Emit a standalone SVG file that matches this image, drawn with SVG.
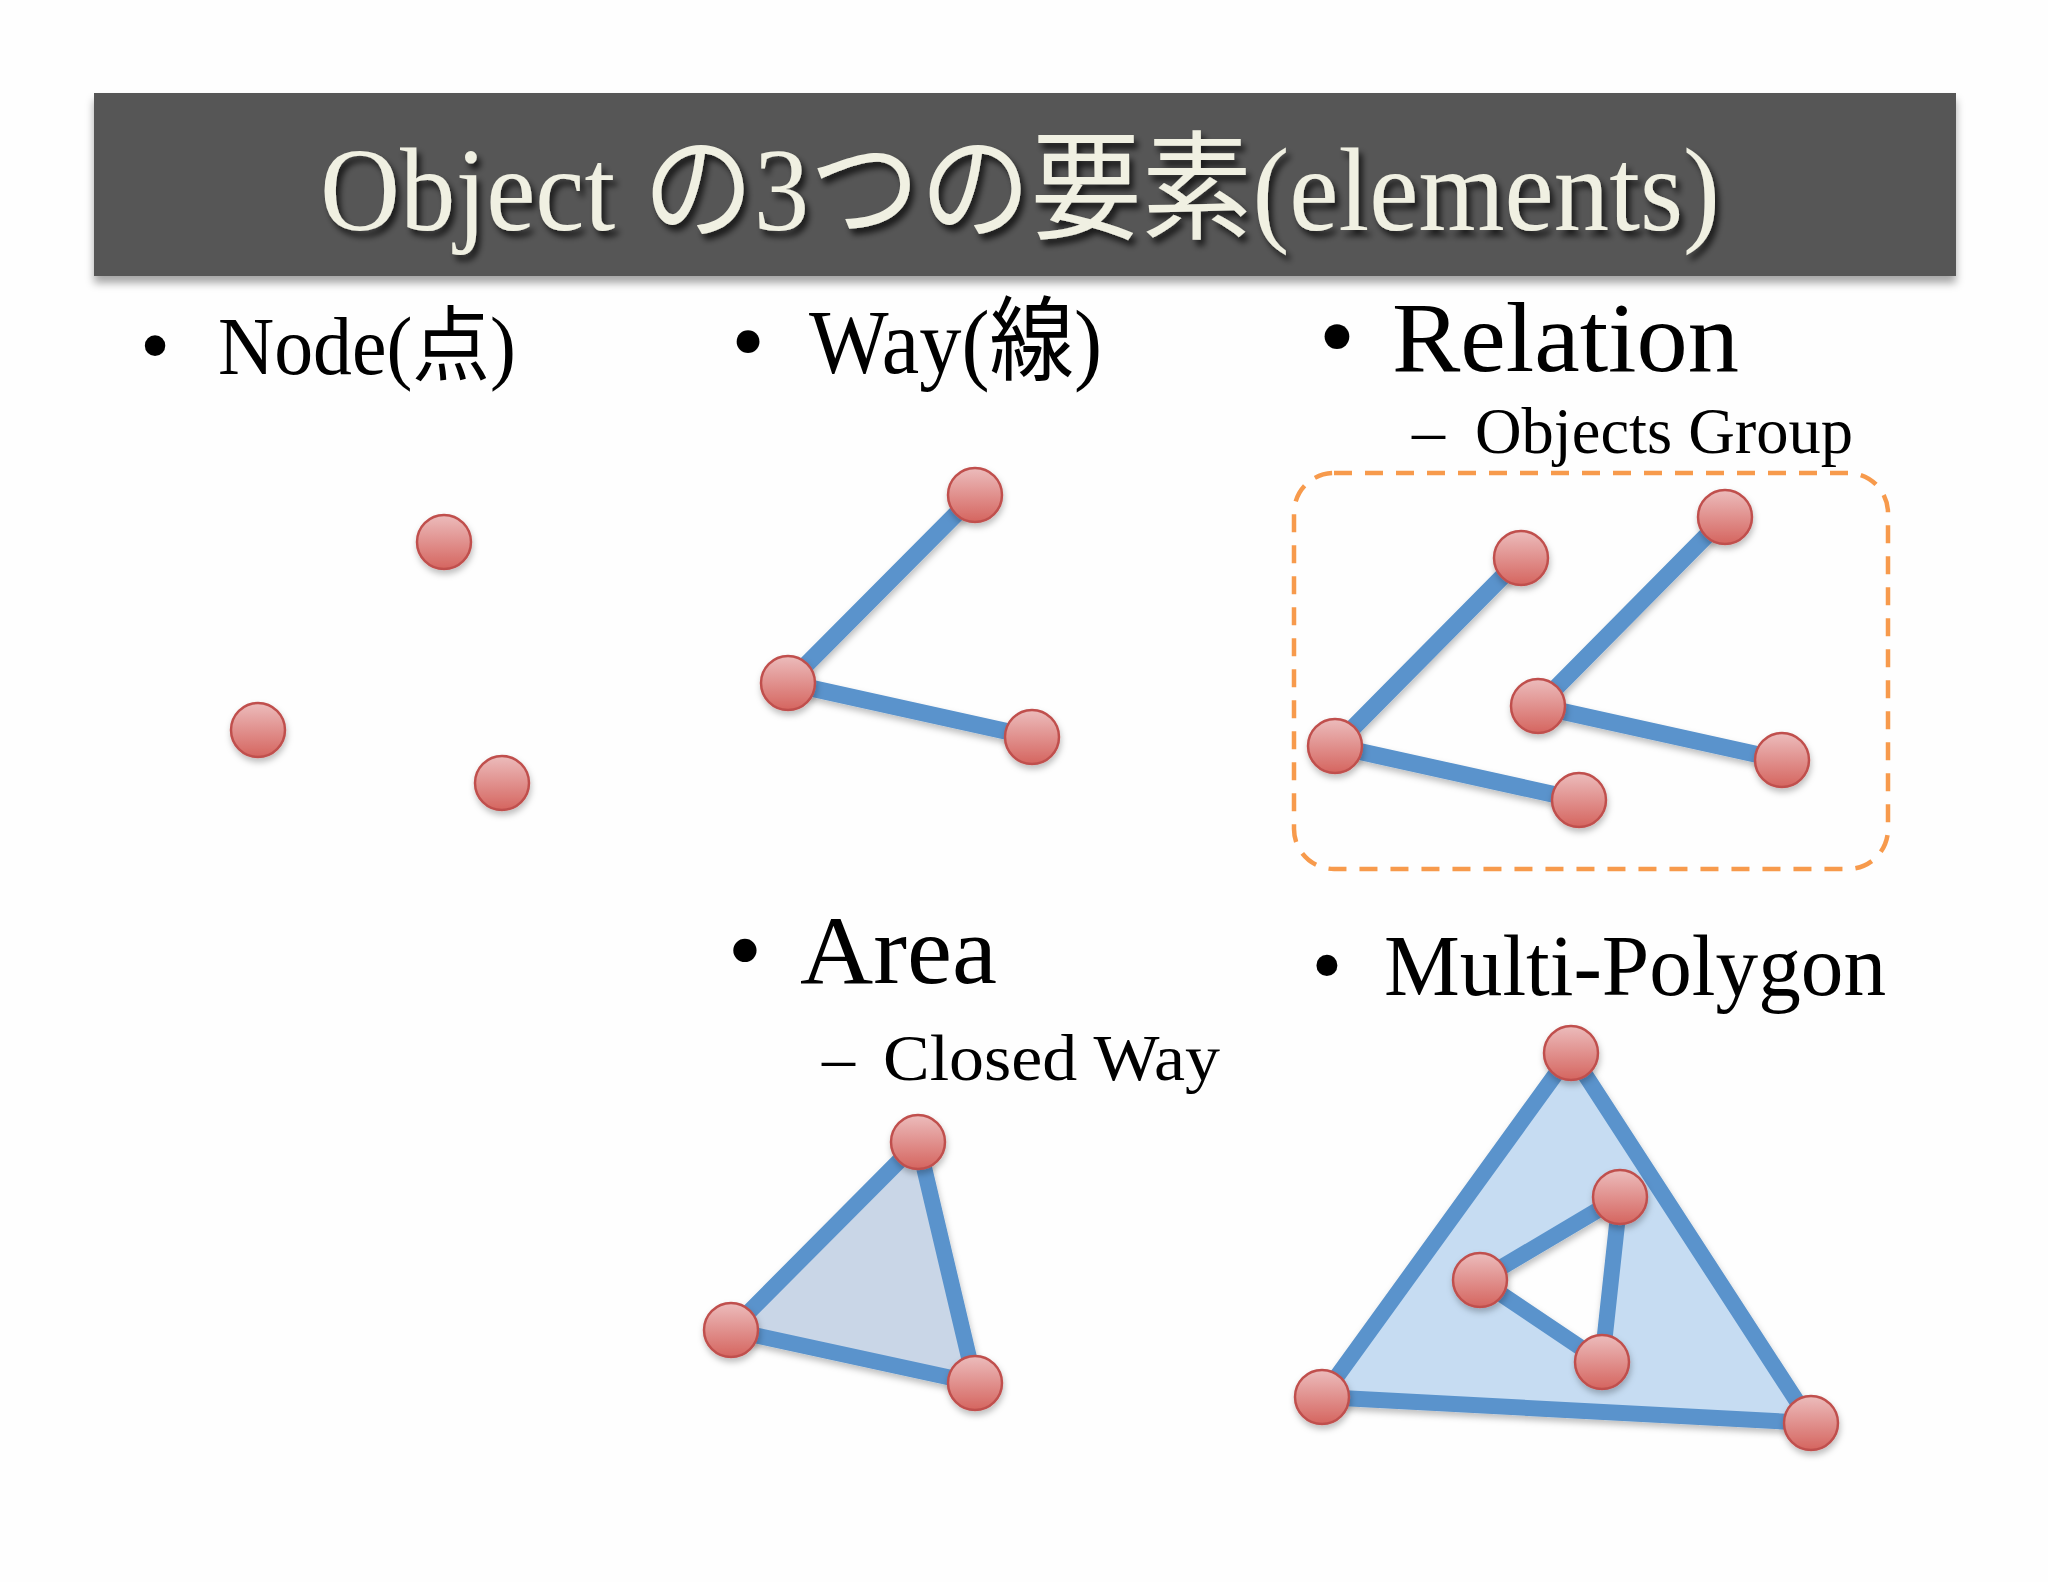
<svg xmlns="http://www.w3.org/2000/svg" width="2048" height="1582" viewBox="0 0 2048 1582">
<defs>
  <linearGradient id="nodeGrad" x1="0" y1="0" x2="0" y2="1">
    <stop offset="0" stop-color="#ecbcbc"/>
    <stop offset="1" stop-color="#d5655f"/>
  </linearGradient>
  <filter id="barShadow" x="-5%" y="-20%" width="110%" height="150%">
    <feDropShadow dx="0" dy="7" stdDeviation="4" flood-color="#000" flood-opacity="0.35"/>
  </filter>
  <filter id="titleShadow" x="-5%" y="-30%" width="110%" height="160%">
    <feDropShadow dx="4" dy="6" stdDeviation="3" flood-color="#000" flood-opacity="0.7"/>
  </filter>
  <filter id="softShadow" x="-30%" y="-30%" width="160%" height="160%">
    <feDropShadow dx="1" dy="4" stdDeviation="3" flood-color="#000" flood-opacity="0.25"/>
  </filter>
  <style>
    .txt { font-family: "Liberation Serif", "Noto Sans CJK JP", serif; fill: #000; }
    .title { font-family: "Liberation Serif", "Noto Sans CJK JP", serif; fill: #f0f0e2; font-size: 118px; }
    .node { fill: url(#nodeGrad); stroke: #c0504d; stroke-width: 2.5; }
    .way { fill: none; stroke: #5a93cc; stroke-width: 17; stroke-linejoin: miter; }
    .area { fill: #c9d6e7; stroke: #5a93cc; stroke-width: 16; stroke-linejoin: miter; }
    .mpoly { fill: #c6dcf2; fill-rule: evenodd; stroke: #5a93cc; stroke-width: 16; stroke-linejoin: miter; }
    .group { fill: none; stroke: #f79a4c; stroke-width: 4.5; stroke-dasharray: 18 13; }
  </style>
</defs>
<rect x="0" y="0" width="2048" height="1582" fill="#fefefe"/>

<g id="title">
  <rect x="94" y="93" width="1862" height="183" fill="#565656" filter="url(#barShadow)"/>
  <text class="title" x="320" y="230" textLength="1400" lengthAdjust="spacingAndGlyphs" filter="url(#titleShadow)">Object の3つの要素(elements)</text>
</g>

<g id="labels">
  <text class="txt" font-size="86"><tspan x="155" y="374" text-anchor="middle">•</tspan></text>
  <text class="txt" font-size="82" x="218" y="374" textLength="298" lengthAdjust="spacingAndGlyphs">Node(点)</text>

  <text class="txt" font-size="96"><tspan x="748" y="373" text-anchor="middle">•</tspan></text>
  <text class="txt" font-size="92" x="809" y="373" textLength="293" lengthAdjust="spacingAndGlyphs">Way(線)</text>

  <text class="txt" font-size="104"><tspan x="1337" y="371" text-anchor="middle">•</tspan></text>
  <text class="txt" font-size="100" x="1392" y="371" textLength="347" lengthAdjust="spacingAndGlyphs">Relation</text>

  <text class="txt" font-size="66" x="1412" y="453">–</text>
  <text class="txt" font-size="66" x="1475" y="453" textLength="378" lengthAdjust="spacingAndGlyphs">Objects Group</text>

  <text class="txt" font-size="98"><tspan x="745" y="983" text-anchor="middle">•</tspan></text>
  <text class="txt" font-size="98" x="800" y="983" textLength="197" lengthAdjust="spacingAndGlyphs">Area</text>

  <text class="txt" font-size="66" x="822" y="1080">–</text>
  <text class="txt" font-size="66" x="883" y="1080" textLength="337" lengthAdjust="spacingAndGlyphs">Closed Way</text>

  <text class="txt" font-size="88"><tspan x="1327" y="995" text-anchor="middle">•</tspan></text>
  <text class="txt" font-size="86" x="1384" y="995" textLength="502" lengthAdjust="spacingAndGlyphs">Multi-Polygon</text>
</g>

<g id="relation-box">
  <rect class="group" x="1294" y="473" width="594" height="396" rx="40" ry="40"/>
</g>

<g id="connectors" filter="url(#softShadow)">
  <polyline class="way" points="975,495 788,683 1032,737"/>
  <polyline class="way" points="1521,558 1335,746 1579,800"/>
  <polyline class="way" points="1725,517 1538,706 1782,760"/>
  <polygon class="area" points="918,1142 731,1330 975,1383"/>
  <path class="mpoly" d="M1571,1053 L1322,1397 L1811,1423 Z M1620,1197 L1480,1280 L1602,1362 Z"/>
</g>

<g id="nodes" filter="url(#softShadow)">
  <g id="node-n1"><circle class="node" cx="444" cy="542" r="27"/></g>
  <g id="node-n2"><circle class="node" cx="258" cy="730" r="27"/></g>
  <g id="node-n3"><circle class="node" cx="502" cy="783" r="27"/></g>

  <g id="node-w1"><circle class="node" cx="975" cy="495" r="27"/></g>
  <g id="node-w2"><circle class="node" cx="788" cy="683" r="27"/></g>
  <g id="node-w3"><circle class="node" cx="1032" cy="737" r="27"/></g>

  <g id="node-r1"><circle class="node" cx="1521" cy="558" r="27"/></g>
  <g id="node-r2"><circle class="node" cx="1725" cy="517" r="27"/></g>
  <g id="node-r3"><circle class="node" cx="1335" cy="746" r="27"/></g>
  <g id="node-r4"><circle class="node" cx="1538" cy="706" r="27"/></g>
  <g id="node-r5"><circle class="node" cx="1579" cy="800" r="27"/></g>
  <g id="node-r6"><circle class="node" cx="1782" cy="760" r="27"/></g>

  <g id="node-a1"><circle class="node" cx="918" cy="1142" r="27"/></g>
  <g id="node-a2"><circle class="node" cx="731" cy="1330" r="27"/></g>
  <g id="node-a3"><circle class="node" cx="975" cy="1383" r="27"/></g>

  <g id="node-m1"><circle class="node" cx="1571" cy="1053" r="27"/></g>
  <g id="node-m2"><circle class="node" cx="1322" cy="1397" r="27"/></g>
  <g id="node-m3"><circle class="node" cx="1811" cy="1423" r="27"/></g>
  <g id="node-m4"><circle class="node" cx="1620" cy="1197" r="27"/></g>
  <g id="node-m5"><circle class="node" cx="1480" cy="1280" r="27"/></g>
  <g id="node-m6"><circle class="node" cx="1602" cy="1362" r="27"/></g>
</g>
</svg>
